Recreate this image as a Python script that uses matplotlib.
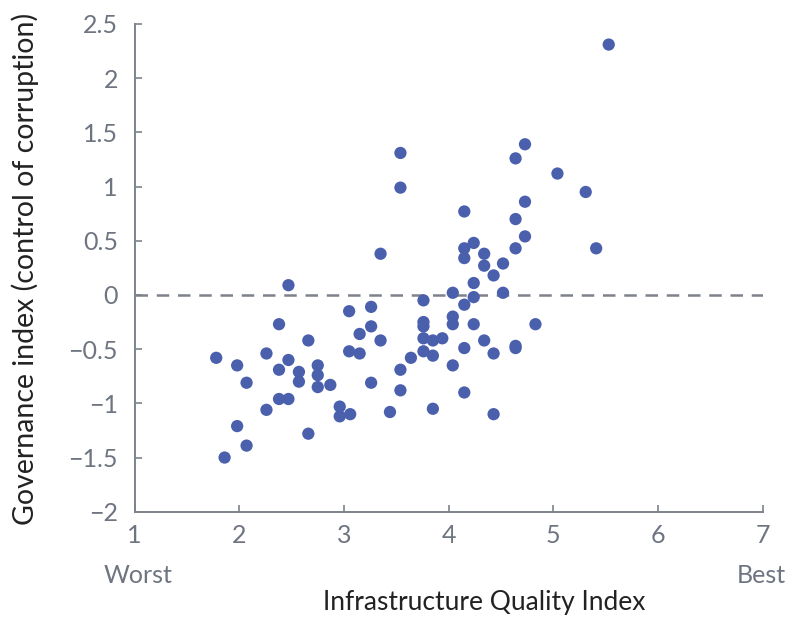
import numpy as np
import matplotlib
matplotlib.use("Agg")
import matplotlib.pyplot as plt

# infrastructure quality vs governance, one dot per country
infra = [1.78, 1.86, 1.98, 1.98, 2.07, 2.07, 2.26, 2.26, 2.38, 2.38,
         2.38, 2.47, 2.47, 2.47, 2.57, 2.57, 2.66, 2.66, 2.75, 2.75,
         2.75, 2.87, 2.96, 2.96, 3.06, 3.05, 3.05, 3.15, 3.15, 3.26,
         3.26, 3.26, 3.35, 3.35, 3.44, 3.54, 3.54, 3.54, 3.54, 3.64,
         3.76, 3.76, 3.76, 3.76, 3.76, 3.85, 3.85, 3.85, 3.94, 4.04,
         4.04, 4.04, 4.04, 4.15, 4.15, 4.15, 4.15, 4.15, 4.15, 4.24,
         4.24, 4.24, 4.24, 4.34, 4.34, 4.34, 4.43, 4.43, 4.43, 4.52,
         4.52, 4.64, 4.64, 4.64, 4.64, 4.64, 4.73, 4.73, 4.73, 4.83,
         5.04, 5.31, 5.41, 5.53]
governance = [-0.58, -1.50, -0.65, -1.21, -0.81, -1.39, -0.54, -1.06, -0.27, -0.69,
              -0.96, 0.09, -0.60, -0.96, -0.71, -0.80, -0.42, -1.28, -0.65, -0.74,
              -0.85, -0.83, -1.03, -1.12, -1.10, -0.15, -0.52, -0.36, -0.54, -0.11,
              -0.29, -0.81, 0.38, -0.42, -1.08, 1.31, 0.99, -0.69, -0.88, -0.58,
              -0.05, -0.25, -0.29, -0.40, -0.52, -0.42, -0.56, -1.05, -0.40, 0.02,
              -0.20, -0.27, -0.65, 0.77, 0.43, 0.34, -0.09, -0.49, -0.90, 0.48,
              0.11, -0.02, -0.27, 0.38, 0.27, -0.42, 0.18, -0.54, -1.10, 0.29,
              0.02, 1.26, 0.70, 0.43, -0.47, -0.49, 1.39, 0.86, 0.54, -0.27,
              1.12, 0.95, 0.43, 2.31]

x_ticks = [1, 2, 3, 4, 5, 6, 7]
y_ticks = [-2, -1.5, -1, -0.5, 0, 0.5, 1, 1.5, 2, 2.5]
y_labels = ["\u22122", "\u22121.5", "\u22121", "\u22120.5", "0", "0.5", "1", "1.5", "2", "2.5"]

plt.rcParams['font.family'] = ['Lato', 'DejaVu Sans']
grey = '#6e7581'

fig = plt.figure(figsize=(7.87, 6.19), dpi=100)
ax = fig.add_axes([0.171, 0.1733, 0.798, 0.788])

ax.axhline(0, color='#7d828b', lw=1.8, ls=(0, (5, 3.5)), zorder=1)
ax.scatter(infra, governance, s=78, color='#4a60ad', edgecolors='none', zorder=3)

ax.set_xlim(1, 7)
ax.set_ylim(-2, 2.5)
ax.set_xticks(x_ticks)
ax.set_xticklabels([str(t) for t in x_ticks])
ax.set_yticks(y_ticks)
ax.set_yticklabels(y_labels)

for side in ['top', 'right']:
    ax.spines[side].set_visible(False)
for side in ['left', 'bottom']:
    ax.spines[side].set_color('#7d828b')
    ax.spines[side].set_linewidth(1.4)

ax.tick_params(axis='both', direction='in', length=5, width=1.2, color='#7d828b',
               labelsize=18, labelcolor=grey)
ax.tick_params(axis='x', pad=9)
ax.tick_params(axis='y', pad=12)

fig.text(0.032, 0.565, 'Governance index (control of corruption)', fontsize=20.5,
         color='#222222', ha='center', va='center', rotation=90)
fig.text(0.615, 0.027, 'Infrastructure Quality Index', fontsize=19,
         color='#222222', ha='center', va='center')
fig.text(0.132, 0.0695, 'Worst', fontsize=18, color=grey, ha='left', va='center')
fig.text(0.998, 0.0695, 'Best', fontsize=18, color=grey, ha='right', va='center')

fig.savefig('out.png', dpi=100)
